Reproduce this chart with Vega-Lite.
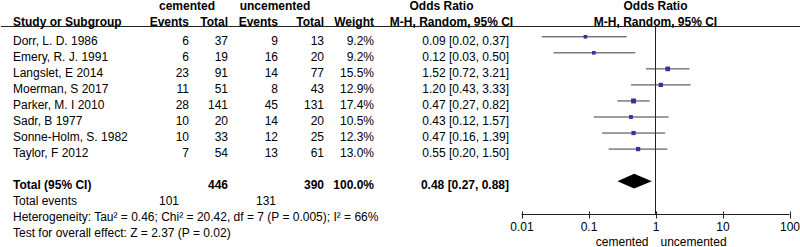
{
  "$schema": "https://vega.github.io/schema/vega-lite/v6.json",
  "padding": 0,
  "spacing": 0,
  "bounds": "flush",
  "config": {"view": {"stroke": null}, "font": "Liberation Sans", "text": {"fontSize": 12, "color": "#000"}},
  "datasets": {
    "studies": [
      {"study": "Dorr, L. D. 1986", "row": 1, "e1": 6, "n1": 37, "e2": 9, "n2": 13, "weight": 9.2, "or": 0.09, "lo": 0.02, "hi": 0.37},
      {"study": "Emery, R. J. 1991", "row": 2, "e1": 6, "n1": 19, "e2": 16, "n2": 20, "weight": 9.2, "or": 0.12, "lo": 0.03, "hi": 0.50},
      {"study": "Langslet, E 2014", "row": 3, "e1": 23, "n1": 91, "e2": 14, "n2": 77, "weight": 15.5, "or": 1.52, "lo": 0.72, "hi": 3.21},
      {"study": "Moerman, S 2017", "row": 4, "e1": 11, "n1": 51, "e2": 8, "n2": 43, "weight": 12.9, "or": 1.20, "lo": 0.43, "hi": 3.33},
      {"study": "Parker, M. I 2010", "row": 5, "e1": 28, "n1": 141, "e2": 45, "n2": 131, "weight": 17.4, "or": 0.47, "lo": 0.27, "hi": 0.82},
      {"study": "Sadr, B 1977", "row": 6, "e1": 10, "n1": 20, "e2": 14, "n2": 20, "weight": 10.5, "or": 0.43, "lo": 0.12, "hi": 1.57},
      {"study": "Sonne-Holm, S. 1982", "row": 7, "e1": 10, "n1": 33, "e2": 12, "n2": 25, "weight": 12.3, "or": 0.47, "lo": 0.16, "hi": 1.39},
      {"study": "Taylor, F 2012", "row": 8, "e1": 7, "n1": 54, "e2": 13, "n2": 61, "weight": 13.0, "or": 0.55, "lo": 0.20, "hi": 1.50}
    ],
    "total": [
      {"label": "Total (95% CI)", "row": 10, "n1": 446, "n2": 390, "weight": 100, "or": 0.48, "lo": 0.27, "hi": 0.88}
    ],
    "events": [
      {"label": "Total events", "row": 11, "e1": 101, "e2": 131}
    ],
    "notes": [
      {"label": "Heterogeneity: Tau² = 0.46; Chi² = 20.42, df = 7 (P = 0.005); I² = 66%", "row": 12},
      {"label": "Test for overall effect: Z = 2.37 (P = 0.02)", "row": 13}
    ]
  },
  "hconcat": [
    {
      "width": 12, "height": 247,
      "data": {"values": [{}]},
      "mark": {"type": "rule", "color": "#222"},
      "encoding": {"y": {"datum": 0.358, "type": "quantitative", "scale": {"domain": [-1.294, 14.105], "reverse": true, "nice": false, "zero": false}, "axis": null}}
    },
    {
      "width": 138, "height": 247,
      "layer": [
        {"data": {"values": [{}]}, "mark": {"type": "rule", "color": "#222"},
         "encoding": {"y": {"datum": 0.358, "type": "quantitative", "scale": {"domain": [-1.294, 14.105], "reverse": true, "nice": false, "zero": false}, "axis": null}}},
        {"data": {"values": [{}]}, "mark": {"type": "text", "align": "left", "baseline": "middle", "fontWeight": "bold", "dy": 1.5},
         "encoding": {"x": {"datum": "c", "type": "nominal", "scale": {"type": "point", "padding": 0, "align": 0}, "axis": null},
                      "y": {"datum": 0, "type": "quantitative", "scale": {"domain": [-1.294, 14.105], "reverse": true, "nice": false, "zero": false}, "axis": null},
                      "text": {"value": "Study or Subgroup"}}},
        {"data": {"name": "studies"}, "mark": {"type": "text", "align": "left", "baseline": "middle", "dy": 4},
         "encoding": {"x": {"datum": "c", "type": "nominal", "scale": {"type": "point", "padding": 0, "align": 0}, "axis": null},
                      "y": {"field": "row", "type": "quantitative", "scale": {"domain": [-1.294, 14.105], "reverse": true, "nice": false, "zero": false}, "axis": null},
                      "text": {"field": "study"}}},
        {"data": {"name": "total"}, "mark": {"type": "text", "align": "left", "baseline": "middle", "fontWeight": "bold", "dy": 4},
         "encoding": {"x": {"datum": "c", "type": "nominal", "scale": {"type": "point", "padding": 0, "align": 0}, "axis": null},
                      "y": {"field": "row", "type": "quantitative", "scale": {"domain": [-1.294, 14.105], "reverse": true, "nice": false, "zero": false}, "axis": null},
                      "text": {"field": "label"}}},
        {"data": {"name": "events"}, "mark": {"type": "text", "align": "left", "baseline": "middle", "dy": 4},
         "encoding": {"x": {"datum": "c", "type": "nominal", "scale": {"type": "point", "padding": 0, "align": 0}, "axis": null},
                      "y": {"field": "row", "type": "quantitative", "scale": {"domain": [-1.294, 14.105], "reverse": true, "nice": false, "zero": false}, "axis": null},
                      "text": {"field": "label"}}},
        {"data": {"name": "notes"}, "mark": {"type": "text", "align": "left", "baseline": "middle", "dy": 4},
         "encoding": {"x": {"datum": "c", "type": "nominal", "scale": {"type": "point", "padding": 0, "align": 0}, "axis": null},
                      "y": {"field": "row", "type": "quantitative", "scale": {"domain": [-1.294, 14.105], "reverse": true, "nice": false, "zero": false}, "axis": null},
                      "text": {"field": "label"}}}
      ]
    },
    {
      "width": 38, "height": 247,
      "layer": [
        {"data": {"values": [{}]}, "mark": {"type": "rule", "color": "#222"},
         "encoding": {"y": {"datum": 0.358, "type": "quantitative", "scale": {"domain": [-1.294, 14.105], "reverse": true, "nice": false, "zero": false}, "axis": null}}},
        {"data": {"values": [{}]}, "mark": {"type": "text", "align": "center", "baseline": "middle", "fontWeight": "bold", "dy": 1.5, "dx": -2},
         "encoding": {"x": {"datum": "c", "type": "nominal", "scale": {"type": "point", "padding": 0, "align": 1}, "axis": null},
                      "y": {"datum": -1, "type": "quantitative", "scale": {"domain": [-1.294, 14.105], "reverse": true, "nice": false, "zero": false}, "axis": null},
                      "text": {"value": "cemented"}}},
        {"data": {"values": [{}]}, "mark": {"type": "text", "align": "right", "baseline": "middle", "fontWeight": "bold", "dy": 1.5},
         "encoding": {"x": {"datum": "c", "type": "nominal", "scale": {"type": "point", "padding": 0, "align": 1}, "axis": null},
                      "y": {"datum": 0, "type": "quantitative", "scale": {"domain": [-1.294, 14.105], "reverse": true, "nice": false, "zero": false}, "axis": null},
                      "text": {"value": "Events"}}},
        {"data": {"name": "studies"}, "mark": {"type": "text", "align": "right", "baseline": "middle", "dy": 4},
         "encoding": {"x": {"datum": "c", "type": "nominal", "scale": {"type": "point", "padding": 0, "align": 1}, "axis": null},
                      "y": {"field": "row", "type": "quantitative", "scale": {"domain": [-1.294, 14.105], "reverse": true, "nice": false, "zero": false}, "axis": null},
                      "text": {"field": "e1"}}},
        {"data": {"name": "events"}, "mark": {"type": "text", "align": "right", "baseline": "middle", "dy": 4, "dx": -10},
         "encoding": {"x": {"datum": "c", "type": "nominal", "scale": {"type": "point", "padding": 0, "align": 1}, "axis": null},
                      "y": {"field": "row", "type": "quantitative", "scale": {"domain": [-1.294, 14.105], "reverse": true, "nice": false, "zero": false}, "axis": null},
                      "text": {"field": "e1"}}}
      ]
    },
    {
      "width": 39, "height": 247,
      "layer": [
        {"data": {"values": [{}]}, "mark": {"type": "rule", "color": "#222"},
         "encoding": {"y": {"datum": 0.358, "type": "quantitative", "scale": {"domain": [-1.294, 14.105], "reverse": true, "nice": false, "zero": false}, "axis": null}}},
        {"data": {"values": [{}]}, "mark": {"type": "text", "align": "right", "baseline": "middle", "fontWeight": "bold", "dy": 1.5},
         "encoding": {"x": {"datum": "c", "type": "nominal", "scale": {"type": "point", "padding": 0, "align": 1}, "axis": null},
                      "y": {"datum": 0, "type": "quantitative", "scale": {"domain": [-1.294, 14.105], "reverse": true, "nice": false, "zero": false}, "axis": null},
                      "text": {"value": "Total"}}},
        {"data": {"name": "studies"}, "mark": {"type": "text", "align": "right", "baseline": "middle", "dy": 4},
         "encoding": {"x": {"datum": "c", "type": "nominal", "scale": {"type": "point", "padding": 0, "align": 1}, "axis": null},
                      "y": {"field": "row", "type": "quantitative", "scale": {"domain": [-1.294, 14.105], "reverse": true, "nice": false, "zero": false}, "axis": null},
                      "text": {"field": "n1"}}},
        {"data": {"name": "total"}, "mark": {"type": "text", "align": "right", "baseline": "middle", "fontWeight": "bold", "dy": 4},
         "encoding": {"x": {"datum": "c", "type": "nominal", "scale": {"type": "point", "padding": 0, "align": 1}, "axis": null},
                      "y": {"field": "row", "type": "quantitative", "scale": {"domain": [-1.294, 14.105], "reverse": true, "nice": false, "zero": false}, "axis": null},
                      "text": {"field": "n1"}}}
      ]
    },
    {
      "width": 50, "height": 247,
      "layer": [
        {"data": {"values": [{}]}, "mark": {"type": "rule", "color": "#222"},
         "encoding": {"y": {"datum": 0.358, "type": "quantitative", "scale": {"domain": [-1.294, 14.105], "reverse": true, "nice": false, "zero": false}, "axis": null}}},
        {"data": {"values": [{}]}, "mark": {"type": "text", "align": "center", "baseline": "middle", "fontWeight": "bold", "dy": 1.5, "dx": -3},
         "encoding": {"x": {"datum": "c", "type": "nominal", "scale": {"type": "point", "padding": 0, "align": 1}, "axis": null},
                      "y": {"datum": -1, "type": "quantitative", "scale": {"domain": [-1.294, 14.105], "reverse": true, "nice": false, "zero": false}, "axis": null},
                      "text": {"value": "uncemented"}}},
        {"data": {"values": [{}]}, "mark": {"type": "text", "align": "right", "baseline": "middle", "fontWeight": "bold", "dy": 1.5},
         "encoding": {"x": {"datum": "c", "type": "nominal", "scale": {"type": "point", "padding": 0, "align": 1}, "axis": null},
                      "y": {"datum": 0, "type": "quantitative", "scale": {"domain": [-1.294, 14.105], "reverse": true, "nice": false, "zero": false}, "axis": null},
                      "text": {"value": "Events"}}},
        {"data": {"name": "studies"}, "mark": {"type": "text", "align": "right", "baseline": "middle", "dy": 4},
         "encoding": {"x": {"datum": "c", "type": "nominal", "scale": {"type": "point", "padding": 0, "align": 1}, "axis": null},
                      "y": {"field": "row", "type": "quantitative", "scale": {"domain": [-1.294, 14.105], "reverse": true, "nice": false, "zero": false}, "axis": null},
                      "text": {"field": "e2"}}},
        {"data": {"name": "events"}, "mark": {"type": "text", "align": "right", "baseline": "middle", "dy": 4, "dx": -2},
         "encoding": {"x": {"datum": "c", "type": "nominal", "scale": {"type": "point", "padding": 0, "align": 1}, "axis": null},
                      "y": {"field": "row", "type": "quantitative", "scale": {"domain": [-1.294, 14.105], "reverse": true, "nice": false, "zero": false}, "axis": null},
                      "text": {"field": "e2"}}}
      ]
    },
    {
      "width": 46, "height": 247,
      "layer": [
        {"data": {"values": [{}]}, "mark": {"type": "rule", "color": "#222"},
         "encoding": {"y": {"datum": 0.358, "type": "quantitative", "scale": {"domain": [-1.294, 14.105], "reverse": true, "nice": false, "zero": false}, "axis": null}}},
        {"data": {"values": [{}]}, "mark": {"type": "text", "align": "right", "baseline": "middle", "fontWeight": "bold", "dy": 1.5},
         "encoding": {"x": {"datum": "c", "type": "nominal", "scale": {"type": "point", "padding": 0, "align": 1}, "axis": null},
                      "y": {"datum": 0, "type": "quantitative", "scale": {"domain": [-1.294, 14.105], "reverse": true, "nice": false, "zero": false}, "axis": null},
                      "text": {"value": "Total"}}},
        {"data": {"name": "studies"}, "mark": {"type": "text", "align": "right", "baseline": "middle", "dy": 4},
         "encoding": {"x": {"datum": "c", "type": "nominal", "scale": {"type": "point", "padding": 0, "align": 1}, "axis": null},
                      "y": {"field": "row", "type": "quantitative", "scale": {"domain": [-1.294, 14.105], "reverse": true, "nice": false, "zero": false}, "axis": null},
                      "text": {"field": "n2"}}},
        {"data": {"name": "total"}, "mark": {"type": "text", "align": "right", "baseline": "middle", "fontWeight": "bold", "dy": 4},
         "encoding": {"x": {"datum": "c", "type": "nominal", "scale": {"type": "point", "padding": 0, "align": 1}, "axis": null},
                      "y": {"field": "row", "type": "quantitative", "scale": {"domain": [-1.294, 14.105], "reverse": true, "nice": false, "zero": false}, "axis": null},
                      "text": {"field": "n2"}}}
      ]
    },
    {
      "width": 50, "height": 247,
      "layer": [
        {"data": {"values": [{}]}, "mark": {"type": "rule", "color": "#222"},
         "encoding": {"y": {"datum": 0.358, "type": "quantitative", "scale": {"domain": [-1.294, 14.105], "reverse": true, "nice": false, "zero": false}, "axis": null}}},
        {"data": {"values": [{}]}, "mark": {"type": "text", "align": "right", "baseline": "middle", "fontWeight": "bold", "dy": 1.5},
         "encoding": {"x": {"datum": "c", "type": "nominal", "scale": {"type": "point", "padding": 0, "align": 1}, "axis": null},
                      "y": {"datum": 0, "type": "quantitative", "scale": {"domain": [-1.294, 14.105], "reverse": true, "nice": false, "zero": false}, "axis": null},
                      "text": {"value": "Weight"}}},
        {"data": {"name": "studies"}, "transform": [{"calculate": "format(datum.weight, '.1f') + '%'", "as": "wlabel"}],
         "mark": {"type": "text", "align": "right", "baseline": "middle", "dy": 4},
         "encoding": {"x": {"datum": "c", "type": "nominal", "scale": {"type": "point", "padding": 0, "align": 1}, "axis": null},
                      "y": {"field": "row", "type": "quantitative", "scale": {"domain": [-1.294, 14.105], "reverse": true, "nice": false, "zero": false}, "axis": null},
                      "text": {"field": "wlabel"}}},
        {"data": {"name": "total"}, "transform": [{"calculate": "format(datum.weight, '.1f') + '%'", "as": "wlabel"}],
         "mark": {"type": "text", "align": "right", "baseline": "middle", "fontWeight": "bold", "dy": 4},
         "encoding": {"x": {"datum": "c", "type": "nominal", "scale": {"type": "point", "padding": 0, "align": 1}, "axis": null},
                      "y": {"field": "row", "type": "quantitative", "scale": {"domain": [-1.294, 14.105], "reverse": true, "nice": false, "zero": false}, "axis": null},
                      "text": {"field": "wlabel"}}}
      ]
    },
    {
      "width": 135, "height": 247,
      "layer": [
        {"data": {"values": [{}]}, "mark": {"type": "rule", "color": "#222"},
         "encoding": {"y": {"datum": 0.358, "type": "quantitative", "scale": {"domain": [-1.294, 14.105], "reverse": true, "nice": false, "zero": false}, "axis": null}}},
        {"data": {"values": [{}]}, "mark": {"type": "text", "align": "center", "baseline": "middle", "fontWeight": "bold", "dy": 1.5},
         "encoding": {"y": {"datum": -1, "type": "quantitative", "scale": {"domain": [-1.294, 14.105], "reverse": true, "nice": false, "zero": false}, "axis": null},
                      "text": {"value": "Odds Ratio"}}},
        {"data": {"values": [{}]}, "mark": {"type": "text", "align": "center", "baseline": "middle", "fontWeight": "bold", "dy": 1.5, "dx": 10},
         "encoding": {"y": {"datum": 0, "type": "quantitative", "scale": {"domain": [-1.294, 14.105], "reverse": true, "nice": false, "zero": false}, "axis": null},
                      "text": {"value": "M-H, Random, 95% CI"}}},
        {"data": {"name": "studies"}, "transform": [{"calculate": "format(datum.or, '.2f') + ' [' + format(datum.lo, '.2f') + ', ' + format(datum.hi, '.2f') + ']'", "as": "orlabel"}],
         "mark": {"type": "text", "align": "right", "baseline": "middle", "dy": 4},
         "encoding": {"x": {"datum": "c", "type": "nominal", "scale": {"type": "point", "padding": 0, "align": 1}, "axis": null},
                      "y": {"field": "row", "type": "quantitative", "scale": {"domain": [-1.294, 14.105], "reverse": true, "nice": false, "zero": false}, "axis": null},
                      "text": {"field": "orlabel"}}},
        {"data": {"name": "total"}, "transform": [{"calculate": "format(datum.or, '.2f') + ' [' + format(datum.lo, '.2f') + ', ' + format(datum.hi, '.2f') + ']'", "as": "orlabel"}],
         "mark": {"type": "text", "align": "right", "baseline": "middle", "fontWeight": "bold", "dy": 4},
         "encoding": {"x": {"datum": "c", "type": "nominal", "scale": {"type": "point", "padding": 0, "align": 1}, "axis": null},
                      "y": {"field": "row", "type": "quantitative", "scale": {"domain": [-1.294, 14.105], "reverse": true, "nice": false, "zero": false}, "axis": null},
                      "text": {"field": "orlabel"}}}
      ]
    },
    {
      "width": 292, "height": 247,
      "layer": [
        {"data": {"values": [{}]}, "mark": {"type": "rule", "color": "#222"},
         "encoding": {"y": {"datum": 0.358, "type": "quantitative", "scale": {"domain": [-1.294, 14.105], "reverse": true, "nice": false, "zero": false}, "axis": null}}},
        {"data": {"values": [{}]}, "mark": {"type": "text", "align": "center", "baseline": "middle", "fontWeight": "bold", "dy": 1.5},
         "encoding": {"x": {"datum": 1, "type": "quantitative", "scale": {"type": "log", "domain": [0.006506, 148.47], "nice": false},
                            "axis": {"values": [0.01, 0.1, 1, 10, 100], "format": "~g", "domain": false, "grid": false, "offset": -36, "tickSize": 7, "tickColor": "#222", "labelPadding": 3, "labelFontSize": 12, "labelColor": "#000", "labelFont": "Liberation Sans", "title": null}},
                      "y": {"datum": -1, "type": "quantitative", "scale": {"domain": [-1.294, 14.105], "reverse": true, "nice": false, "zero": false}, "axis": null},
                      "text": {"value": "Odds Ratio"}}},
        {"data": {"values": [{}]}, "mark": {"type": "text", "align": "center", "baseline": "middle", "fontWeight": "bold", "dy": 1.5},
         "encoding": {"x": {"datum": 1, "type": "quantitative", "scale": {"type": "log", "domain": [0.006506, 148.47], "nice": false},
                            "axis": {"values": [0.01, 0.1, 1, 10, 100], "format": "~g", "domain": false, "grid": false, "offset": -36, "tickSize": 7, "tickColor": "#222", "labelPadding": 3, "labelFontSize": 12, "labelColor": "#000", "labelFont": "Liberation Sans", "title": null}},
                      "y": {"datum": 0, "type": "quantitative", "scale": {"domain": [-1.294, 14.105], "reverse": true, "nice": false, "zero": false}, "axis": null},
                      "text": {"value": "M-H, Random, 95% CI"}}},
        {"data": {"values": [{}]}, "mark": {"type": "rule", "color": "#222"},
         "encoding": {"x": {"datum": 1, "type": "quantitative", "scale": {"type": "log", "domain": [0.006506, 148.47], "nice": false},
                            "axis": {"values": [0.01, 0.1, 1, 10, 100], "format": "~g", "domain": false, "grid": false, "offset": -36, "tickSize": 7, "tickColor": "#222", "labelPadding": 3, "labelFontSize": 12, "labelColor": "#000", "labelFont": "Liberation Sans", "title": null}},
                      "y": {"datum": 0.358, "type": "quantitative", "scale": {"domain": [-1.294, 14.105], "reverse": true, "nice": false, "zero": false}, "axis": null},
                      "y2": {"datum": 12.079}}},
        {"data": {"values": [{}]}, "mark": {"type": "rule", "color": "#222"},
         "encoding": {"x": {"datum": 0.01, "type": "quantitative", "scale": {"type": "log", "domain": [0.006506, 148.47], "nice": false},
                            "axis": {"values": [0.01, 0.1, 1, 10, 100], "format": "~g", "domain": false, "grid": false, "offset": -36, "tickSize": 7, "tickColor": "#222", "labelPadding": 3, "labelFontSize": 12, "labelColor": "#000", "labelFont": "Liberation Sans", "title": null}},
                      "x2": {"datum": 100},
                      "y": {"datum": 12.079, "type": "quantitative", "scale": {"domain": [-1.294, 14.105], "reverse": true, "nice": false, "zero": false}, "axis": null}}},
        {"data": {"name": "studies"}, "mark": {"type": "rule", "color": "#3a3a3a"},
         "encoding": {"x": {"field": "lo", "type": "quantitative", "scale": {"type": "log", "domain": [0.006506, 148.47], "nice": false},
                            "axis": {"values": [0.01, 0.1, 1, 10, 100], "format": "~g", "domain": false, "grid": false, "offset": -36, "tickSize": 7, "tickColor": "#222", "labelPadding": 3, "labelFontSize": 12, "labelColor": "#000", "labelFont": "Liberation Sans", "title": null}},
                      "x2": {"field": "hi"},
                      "y": {"field": "row", "type": "quantitative", "scale": {"domain": [-1.294, 14.105], "reverse": true, "nice": false, "zero": false}, "axis": null}}},
        {"data": {"name": "studies"}, "mark": {"type": "point", "shape": "square", "filled": true, "color": "#3b2f9b", "opacity": 1, "strokeWidth": 0},
         "encoding": {"x": {"field": "or", "type": "quantitative", "scale": {"type": "log", "domain": [0.006506, 148.47], "nice": false},
                            "axis": {"values": [0.01, 0.1, 1, 10, 100], "format": "~g", "domain": false, "grid": false, "offset": -36, "tickSize": 7, "tickColor": "#222", "labelPadding": 3, "labelFontSize": 12, "labelColor": "#000", "labelFont": "Liberation Sans", "title": null}},
                      "y": {"field": "row", "type": "quantitative", "scale": {"domain": [-1.294, 14.105], "reverse": true, "nice": false, "zero": false}, "axis": null},
                      "size": {"field": "weight", "type": "quantitative", "scale": {"domain": [0, 20], "range": [0, 28]}, "legend": null}}},
        {"data": {"name": "total"}, "mark": {"type": "point", "shape": "M-0.943,0L0,-0.412L1,0L0,0.412Z", "filled": true, "color": "#000", "opacity": 1, "size": 1253, "strokeWidth": 0},
         "encoding": {"x": {"field": "or", "type": "quantitative", "scale": {"type": "log", "domain": [0.006506, 148.47], "nice": false},
                            "axis": {"values": [0.01, 0.1, 1, 10, 100], "format": "~g", "domain": false, "grid": false, "offset": -36, "tickSize": 7, "tickColor": "#222", "labelPadding": 3, "labelFontSize": 12, "labelColor": "#000", "labelFont": "Liberation Sans", "title": null}},
                      "y": {"field": "row", "type": "quantitative", "scale": {"domain": [-1.294, 14.105], "reverse": true, "nice": false, "zero": false}, "axis": null}}},
        {"data": {"values": [{}]}, "mark": {"type": "text", "align": "right", "baseline": "middle", "dy": 4, "dx": -7},
         "encoding": {"x": {"datum": 1, "type": "quantitative", "scale": {"type": "log", "domain": [0.006506, 148.47], "nice": false},
                            "axis": {"values": [0.01, 0.1, 1, 10, 100], "format": "~g", "domain": false, "grid": false, "offset": -36, "tickSize": 7, "tickColor": "#222", "labelPadding": 3, "labelFontSize": 12, "labelColor": "#000", "labelFont": "Liberation Sans", "title": null}},
                      "y": {"datum": 13.52, "type": "quantitative", "scale": {"domain": [-1.294, 14.105], "reverse": true, "nice": false, "zero": false}, "axis": null},
                      "text": {"value": "cemented"}}},
        {"data": {"values": [{}]}, "mark": {"type": "text", "align": "left", "baseline": "middle", "dy": 4, "dx": 5},
         "encoding": {"x": {"datum": 1, "type": "quantitative", "scale": {"type": "log", "domain": [0.006506, 148.47], "nice": false},
                            "axis": {"values": [0.01, 0.1, 1, 10, 100], "format": "~g", "domain": false, "grid": false, "offset": -36, "tickSize": 7, "tickColor": "#222", "labelPadding": 3, "labelFontSize": 12, "labelColor": "#000", "labelFont": "Liberation Sans", "title": null}},
                      "y": {"datum": 13.52, "type": "quantitative", "scale": {"domain": [-1.294, 14.105], "reverse": true, "nice": false, "zero": false}, "axis": null},
                      "text": {"value": "uncemented"}}}
      ]
    }
  ]
}
